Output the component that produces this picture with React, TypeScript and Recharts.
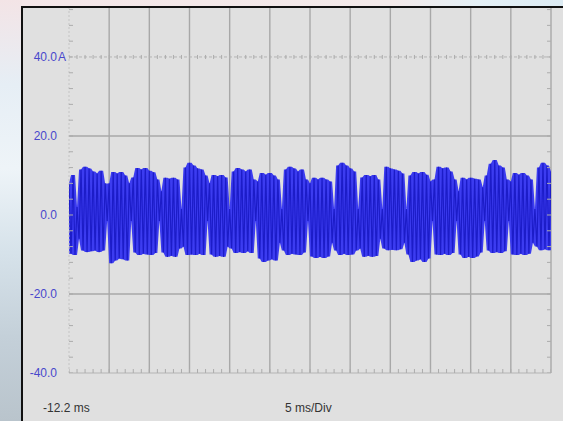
import React from 'react';
import { ComposedChart, Line, Area, Scatter, XAxis, YAxis, ReferenceLine, CartesianGrid } from 'recharts';

const START_MS = -12.2;
const SAMPLE_MS = 0.25;

// current samples (A), one array per 5 ms division (peaks / troughs)
const div0 = [8.0, -9.8, 10.1, -10.1, 2.0, -6.0, 11.5, -9.0, 12.2, -9.4, 11.8, -9.2, 11.0, -9.0, 10.5, -9.4, 11.2, -9.0, 8.0, -1.5];
const div1 = [8.0, -12.2, 10.9, -11.5, 10.5, -11.0, 10.9, -11.2, 10.0, -11.5, 8.0, -1.5, 9.5, -9.5, 11.9, -10.1, 11.5, -9.8, 11.9, -10.0];
const div2 = [11.2, -10.1, 10.8, -9.6, 9.0, -1.5, 6.0, -9.5, 9.4, -10.6, 9.2, -10.3, 9.4, -10.6, 9.0, -8.5, 1.5, -8.0, 12.0, -10.1];
const div3 = [13.2, -10.0, 12.5, -10.1, 11.8, -9.8, 11.5, -10.1, 10.0, -1.5, 8.0, -10.0, 10.1, -10.6, 9.8, -10.4, 10.1, -10.6, 9.5, -8.0];
const div4 = [1.5, -8.5, 11.0, -9.6, 11.9, -9.4, 11.5, -9.6, 11.0, -9.2, 11.5, -9.6, 9.0, -1.5, 8.5, -11.0, 10.6, -11.9, 10.2, -11.5];
const div5 = [10.6, -11.2, 10.0, -11.5, 9.0, -7.0, 1.5, -9.0, 11.5, -10.1, 12.2, -9.8, 11.8, -10.0, 11.0, -10.1, 11.5, -9.5, 9.0, -1.5];
const div6 = [8.0, -10.5, 9.4, -10.9, 9.0, -10.6, 9.4, -10.9, 9.0, -10.5, 8.5, -7.0, 1.5, -9.0, 12.5, -10.1, 13.2, -9.8, 12.5, -10.1];
const div7 = [11.8, -10.0, 11.0, -9.0, 1.5, -8.5, 9.5, -10.6, 10.1, -10.3, 9.8, -10.6, 10.1, -10.4, 9.0, -6.0, 1.5, -8.5, 12.2, -8.9];
const div8 = [11.8, -8.8, 11.5, -8.9, 11.2, -8.7, 10.5, -7.0, 1.5, -10.0, 10.0, -11.9, 10.9, -11.5, 10.5, -11.2, 10.9, -11.9, 10.2, -11.0];
const div9 = [8.5, -1.5, 9.0, -10.0, 12.2, -10.1, 11.8, -9.8, 12.0, -10.1, 11.0, -9.6, 9.0, -1.5, 6.0, -10.0, 9.4, -10.9, 9.0, -10.6];
const div10 = [9.4, -10.9, 9.2, -10.5, 9.0, -9.5, 7.0, -1.5, 10.0, -9.0, 13.0, -9.6, 13.9, -9.4, 12.5, -9.6, 12.0, -9.2, 9.0, -1.5];
const div11 = [8.5, -10.0, 10.6, -10.1, 10.2, -9.8, 10.6, -10.1, 10.0, -9.8, 9.0, -7.0, 1.5, -8.0, 12.0, -8.9, 13.2, -8.7, 12.5, -8.9, 11.0];

const samples = [...div0, ...div1, ...div2, ...div3, ...div4, ...div5, ...div6, ...div7, ...div8, ...div9, ...div10, ...div11];
const waveform = samples.map((v, i) => {
  const win = samples.slice(Math.max(0, i - 1), i + 2);
  return {
    t: +(START_MS + i * SAMPLE_MS).toFixed(3),
    v,
    band: [Math.min(...win), Math.max(...win)],
  };
});

const END_MS = 47.8;
const Y_MIN = -40;
const Y_MAX = 52.4;
const majorTimes = [-7.2, -2.2, 2.8, 7.8, 12.8, 17.8, 22.8, 27.8, 32.8, 37.8, 42.8, 47.8];
const gridAmps = [20, -20];
const yTicks = [-40, -20, 0, 20, 40];
const yTickLabels = ['-40.0', '-20.0', '0.0', '20.0', '40.0'];
const minorTimes = Array.from({ length: 61 }, (_, k) => +(START_MS + k).toFixed(1));
const minorAmps = Array.from({ length: 24 }, (_, k) => -40 + 4 * k);
const triggerTime = 0;

const bottomTicks = minorTimes.map((t) => ({ t, v: -40 }));
const topTicks = minorTimes.map((t) => ({ t, v: 40 }));
const leftTicks = minorAmps.map((v) => ({ t: START_MS, v }));
const rightTicks = minorAmps.map((v) => ({ t: END_MS, v }));
const triggerMark = [{ t: triggerTime, v: -40 }];

const FONT = '"Liberation Sans", Arial, sans-serif';
const GRID = '#a8a8a8';
const TICK = '#acacac';

const YTick = (props: any) => {
  const { y, payload } = props;
  const idx = yTicks.indexOf(payload.value);
  const label = idx >= 0 ? yTickLabels[idx] : '';
  return (
    <g>
      <text x={57} y={y} dy="0.35em" textAnchor="end" fontSize={12} fontFamily={FONT} fill="#4848cc">
        {label}
      </text>
      {payload.value === 40 && (
        <text x={58} y={y} dy="0.35em" textAnchor="start" fontSize={12} fontFamily={FONT} fill="#4848cc">
          A
        </text>
      )}
    </g>
  );
};

const vTickDown = (props: any) => <line x1={props.cx} x2={props.cx} y1={props.cy - 4} y2={props.cy} stroke={TICK} strokeWidth={1} />;
const vTickCross = (props: any) => <line x1={props.cx} x2={props.cx} y1={props.cy - 2} y2={props.cy + 2} stroke={TICK} strokeWidth={1} />;
const hTickRight = (props: any) => <line x1={props.cx} x2={props.cx + 4} y1={props.cy} y2={props.cy} stroke={TICK} strokeWidth={1} />;
const hTickLeft = (props: any) => <line x1={props.cx - 4} x2={props.cx} y1={props.cy} y2={props.cy} stroke={TICK} strokeWidth={1} />;
const triangle = (props: any) => (
  <polygon
    points={`${props.cx},${props.cy + 1} ${props.cx - 3.5},${props.cy + 6} ${props.cx + 3.5},${props.cy + 6}`}
    fill="#111"
  />
);

export default function App() {
  return (
    <div style={{ position: 'absolute', left: 0, top: 0, width: 563, height: 421, overflow: 'hidden' }}>
      <div
        style={{
          position: 'absolute', left: 0, top: 0, width: 563, height: 7,
          background: 'linear-gradient(90deg, #f4e6e8 0%, #f3eaea 70%, #e4f0f6 85%, #dcebf3 100%)',
        }}
      />
      <div
        style={{
          position: 'absolute', left: 0, top: 0, width: 22, height: 421,
          background: 'linear-gradient(180deg, #f3e4e6 0%, #e6eef5 20%, #eef4f8 40%, #d6e2ea 60%, #c4d0d9 80%, #b9c4cc 100%)',
        }}
      />
      <div style={{ position: 'absolute', left: 23, top: 8, width: 540, height: 413, background: '#e0e0e0' }} />
      <div style={{ position: 'absolute', left: 21, top: 6, width: 542, height: 2, background: '#111' }} />
      <div style={{ position: 'absolute', left: 21, top: 6, width: 2, height: 415, background: '#111' }} />
      <div style={{ position: 'absolute', left: 0, top: 0 }}>
        <ComposedChart width={563} height={421} margin={{ top: 8, right: 12, bottom: 48, left: 0 }} data={waveform}>
          <CartesianGrid
            verticalValues={majorTimes}
            horizontalValues={gridAmps}
            stroke={GRID}
            strokeWidth={1.4}
          />
          <XAxis type="number" dataKey="t" domain={[START_MS, END_MS]} hide allowDataOverflow />
          <YAxis
            type="number"
            domain={[Y_MIN, Y_MAX]}
            ticks={yTicks}
            width={69}
            axisLine={false}
            tickLine={false}
            tick={<YTick />}
            allowDataOverflow
            interval={0}
          />
          <ReferenceLine x={START_MS} stroke="#c4c4c4" strokeWidth={1} strokeDasharray="2 2" />
          <ReferenceLine y={40} stroke="#b4b4b4" strokeWidth={1} strokeDasharray="3 2" />
          <ReferenceLine y={-40} stroke="#b4b4b4" strokeWidth={1} />
          <Scatter data={bottomTicks} dataKey="v" shape={vTickDown} isAnimationActive={false} />
          <Scatter data={topTicks} dataKey="v" shape={vTickCross} isAnimationActive={false} />
          <Scatter data={leftTicks} dataKey="v" shape={hTickRight} isAnimationActive={false} />
          <Scatter data={rightTicks} dataKey="v" shape={hTickLeft} isAnimationActive={false} />
          <Area
            type="linear"
            dataKey="band"
            stroke="none"
            fill="#3c3cf0"
            fillOpacity={1}
            isAnimationActive={false}
          />
          <Line
            type="linear"
            dataKey="v"
            stroke="#1c1cc8"
            strokeWidth={1.2}
            dot={false}
            isAnimationActive={false}
          />
          <Scatter data={triggerMark} dataKey="v" shape={triangle} isAnimationActive={false} />
        </ComposedChart>
      </div>
      <div style={{ position: 'absolute', left: 43, top: 401, fontSize: 12, fontFamily: FONT, color: '#333', whiteSpace: 'nowrap' }}>
        -12.2 ms
      </div>
      <div style={{ position: 'absolute', left: 285, top: 401, fontSize: 12, fontFamily: FONT, color: '#333', whiteSpace: 'nowrap' }}>
        5 ms/Div
      </div>
    </div>
  );
}
